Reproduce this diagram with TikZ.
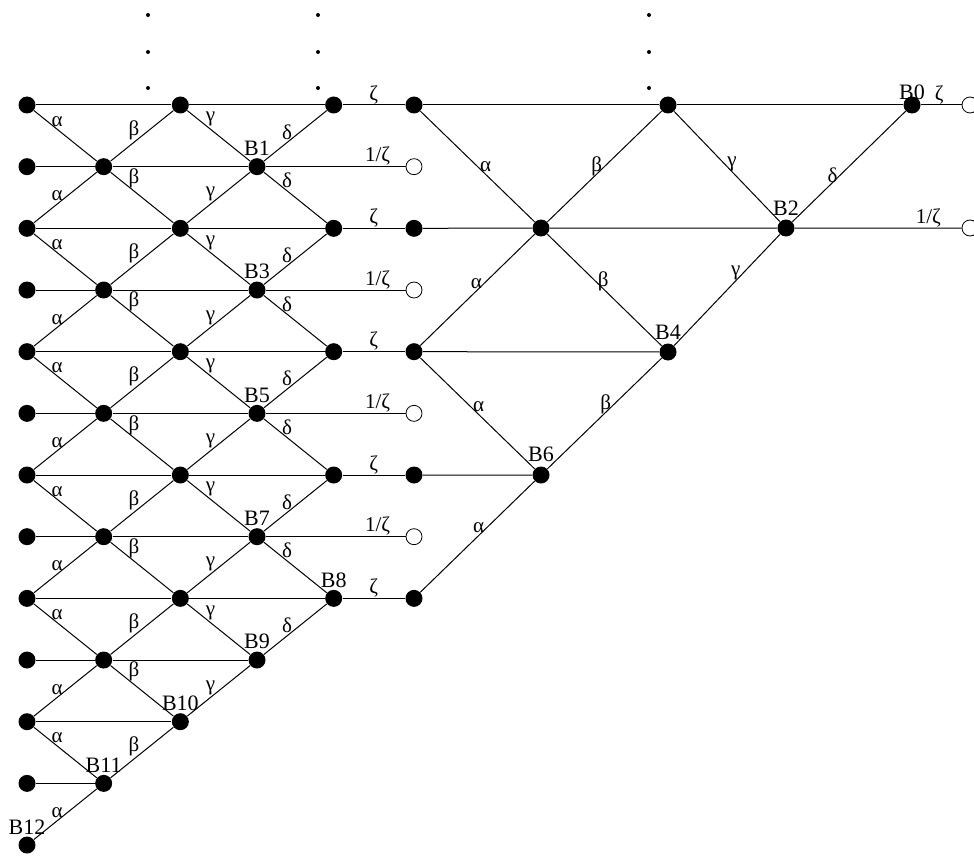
\documentclass[tikz,border=0pt]{standalone}
\usepackage{fontspec}
\setmainfont{Liberation Serif}
\usepackage{tikz}
\usetikzlibrary{positioning}
\tikzset{
  vertex/.style={circle, fill=black, inner sep=0pt, minimum size=8.5pt},
  hole/.style={circle, draw=black, line width=0.4pt, inner sep=0pt, minimum size=8pt},
  dotmark/.style={circle, fill=black, inner sep=0pt, minimum size=2pt},
  wire/.style={black, line width=0.5pt},
  greek/.style={font=\fontsize{10.5}{12}\selectfont, inner sep=1.2pt, above, pos=0.37},
  lgreek/.style={font=\fontsize{10.5}{12}\selectfont, inner sep=1pt, left},
  rgreek/.style={font=\fontsize{10.5}{12}\selectfont, inner sep=1pt, right},
  zeta/.style={font=\fontsize{10.5}{12}\selectfont, inner sep=0.3pt, above},
  tag/.style={font=\fontsize{11}{13}\selectfont, inner sep=0.8pt}
}
\begin{document}
\begin{tikzpicture}[x=0.5pt, y=-0.5pt]
  \useasboundingbox (0,0) rectangle (974,856);
  % left lattice
  \foreach \row in {0,...,12}
    \node[vertex] (v-0-\row) at (27,{105+61.67*\row}) {};
  \foreach \c in {1,...,4}
    \foreach \k in {0,...,6}{
      \pgfmathtruncatemacro\row{2*\k+mod(\c,2)}
      \ifnum\numexpr\c+\row\relax<13
        \node[vertex] (v-\c-\row) at ({27+76.67*\c},{105+61.67*\row}) {};
      \fi
    }
  \foreach \n/\c/\row in {1/3/1,3/3/3,5/3/5,7/3/7,8/4/8,9/3/9,10/2/10,11/1/11,12/0/12}
    \node[tag, above=0pt of v-\c-\row] (b-\n) {B\n};
  \foreach \row in {0,2,...,8}
    \draw[wire] (v-0-\row) -- (v-2-\row) -- (v-4-\row);
  \draw[wire] (v-0-10) -- (v-2-10);
  \foreach \row in {1,3,...,9}
    \draw[wire] (v-0-\row) -- (v-1-\row) -- (v-3-\row);
  \draw[wire] (v-0-11) -- (v-1-11);
  \foreach \row in {1,3,5,7}{
    \node[hole] (o-\row) at (414,{105+61.67*\row}) {};
    \draw[wire] (v-3-\row) -- node[zeta, pos=0.8] {1/ζ} (o-\row);
  }
  \foreach \c/\g in {0/α,1/β,2/γ,3/δ}{
    \pgfmathtruncatemacro\cn{\c+1}
    \foreach \k in {0,...,6}{
      \pgfmathtruncatemacro\row{2*\k+mod(\c,2)}
      \pgfmathtruncatemacro\dn{\row+1}
      \pgfmathtruncatemacro\up{\row-1}
      \ifnum\numexpr\c+\row\relax<11
        \draw[wire] (v-\c-\row) -- node[greek] {\g} (v-\cn-\dn);
      \fi
      \ifnum\row>0 \ifnum\numexpr\c+\row\relax<13
        \draw[wire] (v-\c-\row) -- node[greek] {\g} (v-\cn-\up);
      \fi\fi
    }
  }
  % right lattice
  \foreach \row in {0,2,...,8}{
    \node[vertex] (a-\row) at (414,{105+61.67*\row}) {};
    \draw[wire] (v-4-\row) -- node[zeta] {ζ} (a-\row);
  }
  \node[vertex] (m) at (541,228) {};
  \node[vertex] (p) at (668,105) {};
  \node[vertex] (B0) at (912,105) {};
  \node[vertex] (B2) at (786,228) {};
  \node[vertex] (B4) at (668,352) {};
  \node[vertex] (B6) at (541,475) {};
  \node[hole] (o-r0) at (970,105) {};
  \node[hole] (o-r2) at (970,228) {};
  \node[tag, above=-3pt of B0] (b-0) {B0};
  \foreach \n in {2,4,6}
    \node[tag, above=1pt of B\n] (b-\n) {B\n};
  \draw[wire] (a-0) -- (p) -- (B0) -- node[zeta, pos=0.45] {ζ} (o-r0);
  \draw[wire] (a-2) -- (m) -- (B2) -- node[zeta, pos=0.8] {1/ζ} (o-r2);
  \draw[wire] (a-4) -- (B4);
  \draw[wire] (a-6) -- (B6);
  \draw[wire] (a-0) -- node[rgreek, pos=0.5] {α} (m);
  \draw[wire] (m) -- node[lgreek, pos=0.5] {β} (p);
  \draw[wire] (p) -- node[rgreek, pos=0.48] {γ} (B2);
  \draw[wire] (B2) -- node[lgreek, pos=0.42] {δ} (B0);
  \draw[wire] (a-4) -- node[lgreek, pos=0.56] {α} (m);
  \draw[wire] (m) -- node[rgreek, pos=0.42] {β} (B4);
  \draw[wire] (B4) -- node[lgreek, pos=0.65] {γ} (B2);
  \draw[wire] (a-4) -- node[rgreek, pos=0.44] {α} (B6);
  \draw[wire] (B6) -- node[lgreek, pos=0.58] {β} (B4);
  \draw[wire] (a-8) -- node[lgreek, pos=0.58] {α} (B6);
  % vertical ellipses
  \foreach \x in {148,318,649}
    \foreach \y in {15,52,88}
      \node[dotmark] (e-\x-\y) at (\x,\y) {};
\end{tikzpicture}
\end{document}
